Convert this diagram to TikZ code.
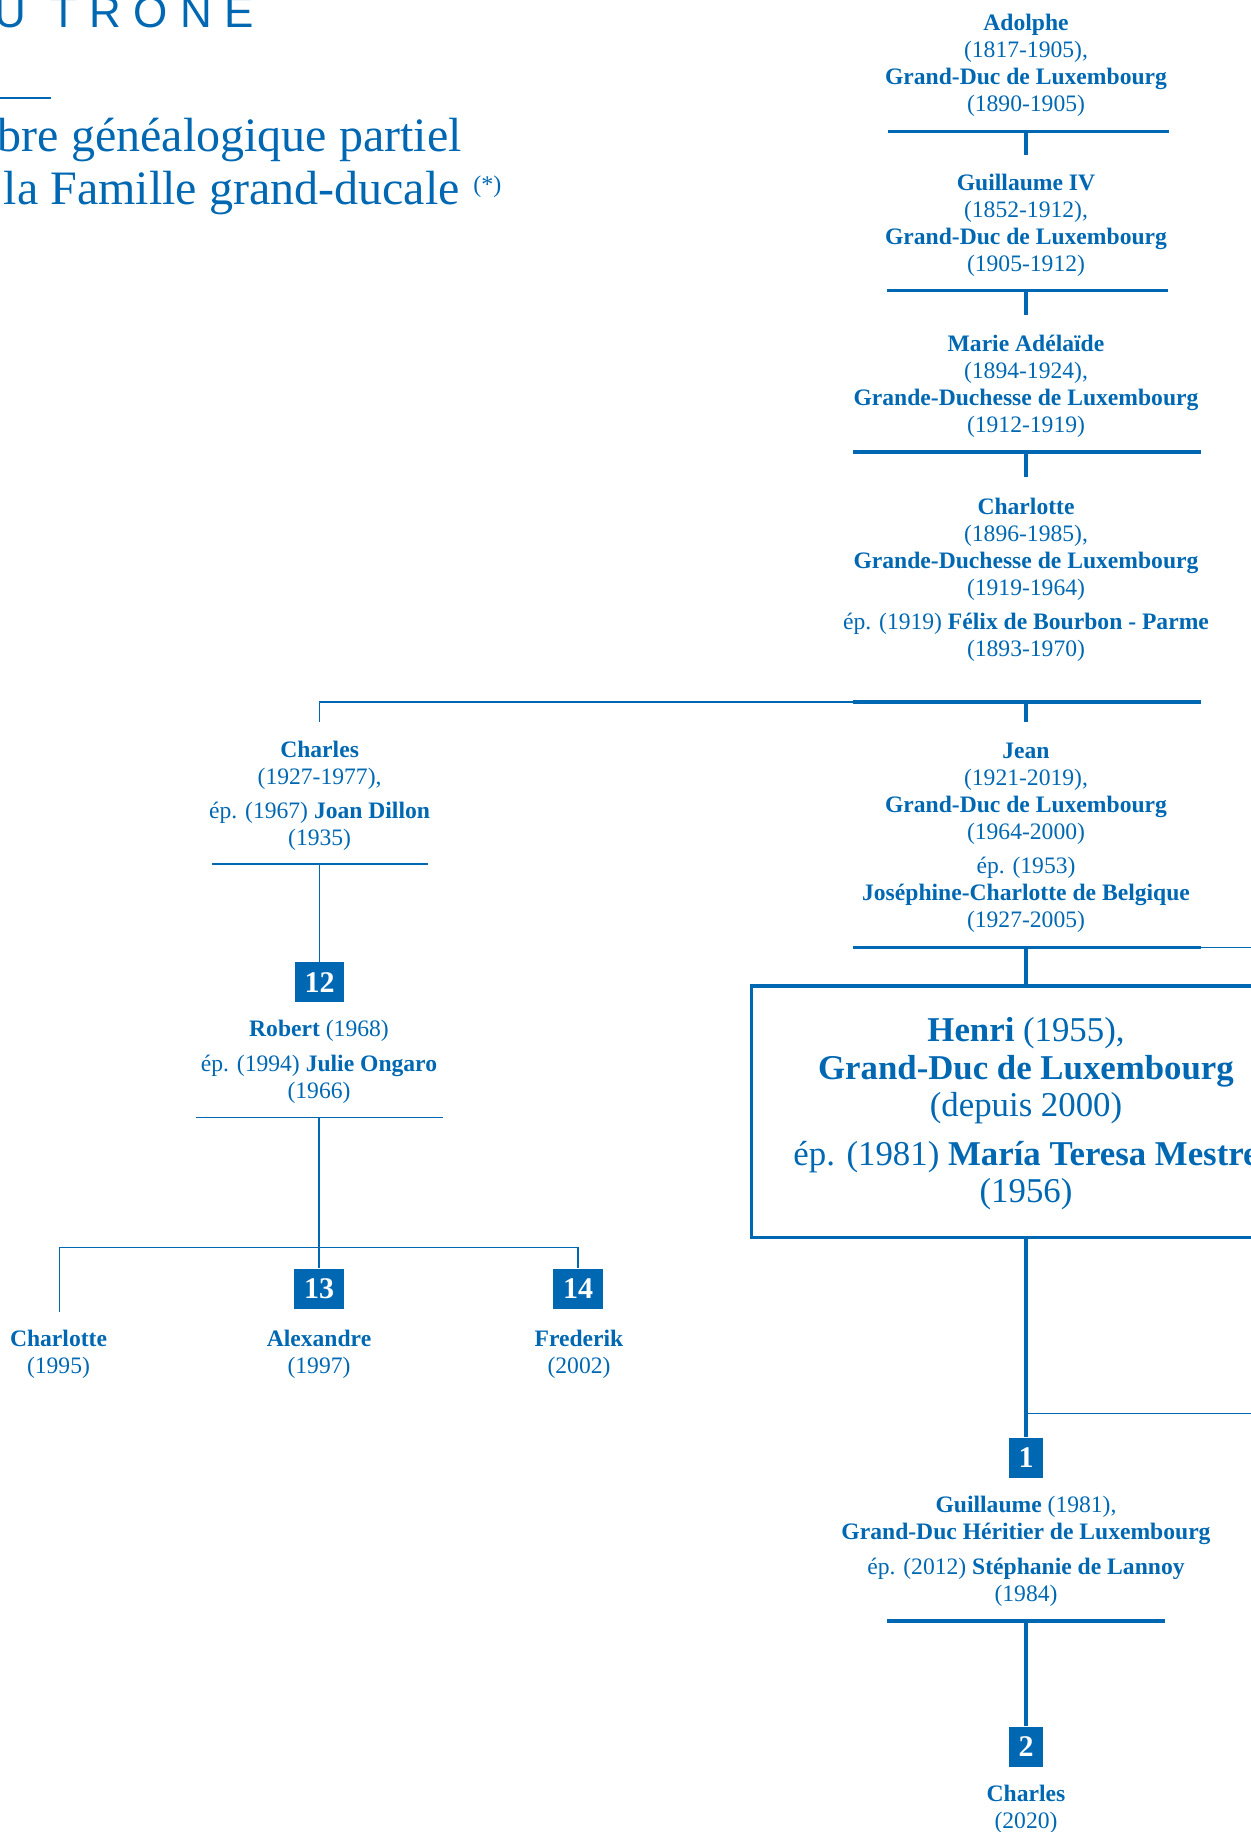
\documentclass[tikz,border=0pt]{standalone}
\usepackage{fontspec}
\setmainfont{Liberation Serif}
\newfontfamily\titlefont[LetterSpace=28]{Liberation Sans}
\definecolor{luxblue}{RGB}{0,104,178}

\tikzset{
  person/.style={align=center, anchor=base, inner sep=0pt, font=\fontsize{11.8}{13.5}\selectfont},
  henribox/.style={draw, line width=1.6pt, minimum width=274.3pt, minimum height=125.6pt, inner sep=0pt},
  henritext/.style={align=center, anchor=base, inner sep=0pt, font=\fontsize{17.4}{18.75}\selectfont},
  rank/.style={fill=luxblue, text=white, font=\fontsize{15}{15}\selectfont\bfseries, minimum height=20pt, inner xsep=4.9pt, inner ysep=0pt},
  bar/.style={line width=1.7pt},
  fine/.style={line width=0.7pt}
}

\begin{document}
\begin{tikzpicture}[x=0.5pt, y=-0.5pt, color=luxblue]
  \useasboundingbox (0,0) rectangle (1250,1832);

  % titre
  \node[anchor=base west, inner sep=0pt, font=\titlefont\fontsize{22}{22}\selectfont] (title) at (-6,27) {U TRONE};
  \draw[line width=1pt] (0,97.7) coordinate (rule-l) -- (51,97.7) coordinate (rule-r);
  \node[anchor=base east, inner sep=0pt, font=\fontsize{24}{26}\selectfont] (sub1) at (462,151.7) {bre généalogique partiel};
  \node[anchor=base east, inner sep=0pt, font=\fontsize{24}{26}\selectfont] (sub2) at (460,204) {la Famille grand-ducale};
  \node[anchor=base west, inner sep=0pt, font=\fontsize{12}{12}\selectfont] (star) at (473,192) {(*)};

  % lignee principale (ancre = derniere ligne)
  \node[person] (adolphe) at (1026,111.7) {\textbf{Adolphe}\\ (1817-1905),\\ \textbf{Grand-Duc de Luxembourg}\\ (1890-1905)};
  \node[person] (guillaumeIV) at (1026,271.7) {\textbf{Guillaume IV}\\ (1852-1912),\\ \textbf{Grand-Duc de Luxembourg}\\ (1905-1912)};
  \node[person] (marie) at (1026,432.7) {\textbf{Marie Adélaïde}\\ (1894-1924),\\ \textbf{Grande-Duchesse de Luxembourg}\\ (1912-1919)};
  \node[person] (charlotte) at (1026,656.7) {\textbf{Charlotte}\\ (1896-1985),\\ \textbf{Grande-Duchesse de Luxembourg}\\ (1919-1964)\\[3.8pt] ép. (1919) \textbf{Félix de Bourbon - Parme}\\ (1893-1970)};
  \node[person] (jean) at (1026,927.7) {\textbf{Jean}\\ (1921-2019),\\ \textbf{Grand-Duc de Luxembourg}\\ (1964-2000)\\[3.8pt] ép. (1953)\\ \textbf{Joséphine-Charlotte de Belgique}\\ (1927-2005)};
  \node[henribox] (henri) at (1026,1111.6) {};
  \node[henritext] (henriT) at (1026,1202.7) {\textbf{Henri} (1955),\\ \textbf{Grand-Duc de Luxembourg}\\ (depuis 2000)\\[5.4pt] ép. (1981) \textbf{María Teresa Mestre}\\ (1956)};
  \node[rank] (n1) at (1026,1457.5) {1};
  \node[person] (guillaume) at (1026,1601.3) {\textbf{Guillaume} (1981),\\ \textbf{Grand-Duc Héritier de Luxembourg}\\[3.8pt] ép. (2012) \textbf{Stéphanie de Lannoy}\\ (1984)};
  \node[rank] (n2) at (1026,1746.7) {2};
  \node[person] (charles) at (1026,1828.3) {\textbf{Charles}\\ (2020)};

  % branche de Charles
  \node[person] (charlesL) at (319.6,845.7) {\textbf{Charles}\\ (1927-1977),\\[3.8pt] ép. (1967) \textbf{Joan Dillon}\\ (1935)};
  \node[rank] (n12) at (319.6,982.4) {12};
  \node[person] (robert) at (319,1098.3) {\textbf{Robert} (1968)\\[3.8pt] ép. (1994) \textbf{Julie Ongaro}\\ (1966)};
  \node[rank] (n13) at (319,1288.5) {13};
  \node[rank] (n14) at (578,1288.5) {14};
  \node[person] (charlotteR) at (58.5,1373.3) {\textbf{Charlotte}\\ (1995)};
  \node[person] (alexandre) at (319,1373.3) {\textbf{Alexandre}\\ (1997)};
  \node[person] (frederik) at (579,1373.3) {\textbf{Frederik}\\ (2002)};

  % traits
  \draw[bar] (888,131.7) -- (1169,131.7);
  \draw[bar] (1026,131.7) coordinate (adolphe-bar) -- (1026,155) coordinate (guillaumeIV-in);
  \draw[bar] (887,290.7) -- (1168,290.7);
  \draw[bar] (1026,290.7) coordinate (guillaumeIV-bar) -- (1026,315) coordinate (marie-in);
  \draw[bar] (853,452) -- (1201,452);
  \draw[bar] (1026,452) coordinate (marie-bar) -- (1026,476.7) coordinate (charlotte-in);
  \draw[bar] (853,702) coordinate (charlotte-bar-l) -- (1201,702);
  \draw[bar] (1026,702) coordinate (charlotte-bar) -- (1026,722) coordinate (jean-in);
  \draw[fine] (charlotte-bar-l) -- (319.6,702) coordinate (charlesL-top) -- (319.6,722.3) coordinate (charlesL-in);
  \draw[bar] (853,947.3) -- (1201,947.3) coordinate (jean-bar-r);
  \draw[fine] (jean-bar-r) -- (1262,947.3) coordinate (jean-out);
  \draw[bar] (1026,947.3) coordinate (jean-bar) -- (henri.north);
  \draw[bar] (henri.south) -- (n1.north);
  \draw[fine] (1026,1413.3) coordinate (henri-fork) -- (1262,1413.3) coordinate (henri-out);
  \draw[bar] (887,1621) -- (1165,1621);
  \draw[bar] (1026,1621) coordinate (guillaume-bar) -- (n2.north);

  \draw[fine] (212,864) -- (427.5,864);
  \draw[fine] (319.6,864) coordinate (charlesL-bar) -- (n12.north);
  \draw[fine] (196,1117.3) -- (443,1117.3);
  \draw[fine] (319,1117.3) coordinate (robert-bar) -- (n13.north);
  \draw[fine] (59.6,1311.7) coordinate (charlotteR-in) -- (59.6,1247.7) -- (578,1247.7) -- (n14.north);
\end{tikzpicture}
\end{document}
